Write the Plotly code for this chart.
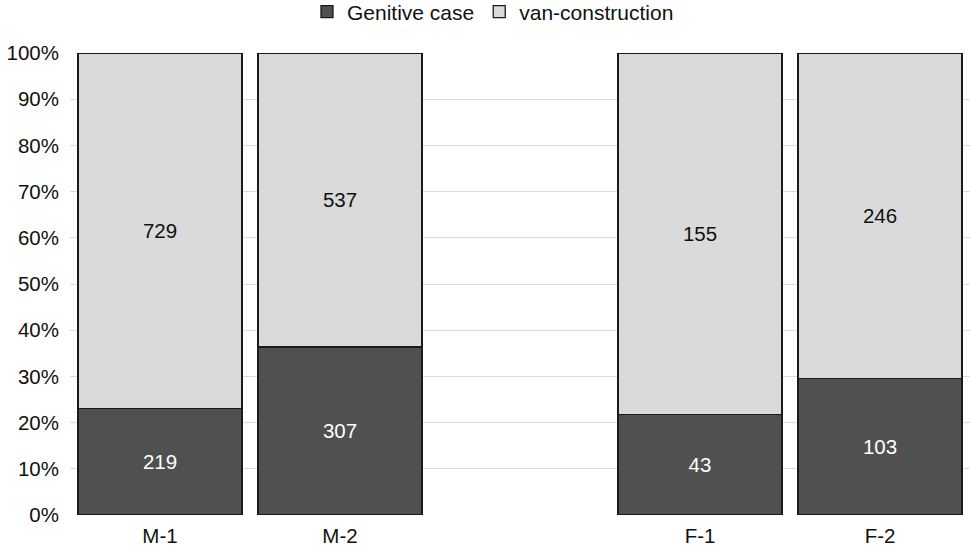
import plotly.graph_objects as go

categories = ["M-1", "M-2", " ", "F-1", "F-2"]
genitive = [219, 307, None, 43, 103]
van = [729, 537, None, 155, 246]
tick_vals = [0, 10, 20, 30, 40, 50, 60, 70, 80, 90, 100]
tick_text = [f"{v}%" for v in tick_vals]

font_family = "Liberation Sans, Arial, sans-serif"
FS = 20.5

fig = go.Figure()
fig.add_trace(go.Bar(
    name="Genitive case", x=categories, y=genitive,
    text=[str(v) if v is not None else "" for v in genitive],
    textposition="inside", insidetextanchor="middle",
    textfont=dict(color="white", size=FS, family=font_family),
    marker=dict(color="#505050", line=dict(color="#1a1a1a", width=1.3)),
))
fig.add_trace(go.Bar(
    name="van-construction", x=categories, y=van,
    text=[str(v) if v is not None else "" for v in van],
    textposition="inside", insidetextanchor="middle",
    textfont=dict(color="#111111", size=FS, family=font_family),
    marker=dict(color="#dadada", line=dict(color="#1a1a1a", width=1.3)),
))

fig.update_layout(
    barmode="stack", barnorm="percent", bargap=0.09,
    width=971, height=547,
    margin=dict(l=70, r=1, t=53, b=32, autoexpand=False),
    plot_bgcolor="white", paper_bgcolor="white",
    font=dict(family=font_family, size=FS, color="#111111"),
    legend=dict(orientation="h", x=0.47, xanchor="center", y=1.133, yanchor="top",
                font=dict(size=21), traceorder="normal", itemwidth=30),
    showlegend=True,
    uniformtext=dict(mode="show", minsize=10),
)
fig.update_yaxes(range=[0, 100], tickvals=tick_vals, ticktext=tick_text,
                 showgrid=True, gridcolor="#d9d9d9", gridwidth=1.3,
                 zeroline=False, showline=False, ticks="", ticklabelstandoff=10)
fig.update_xaxes(type="category", categoryorder="array", categoryarray=categories,
                 showgrid=False, showline=False, ticks="", ticklabelstandoff=6)

fig.write_html("out.html", config={"displayModeBar": False},
               post_script="document.body.style.margin='0';")
